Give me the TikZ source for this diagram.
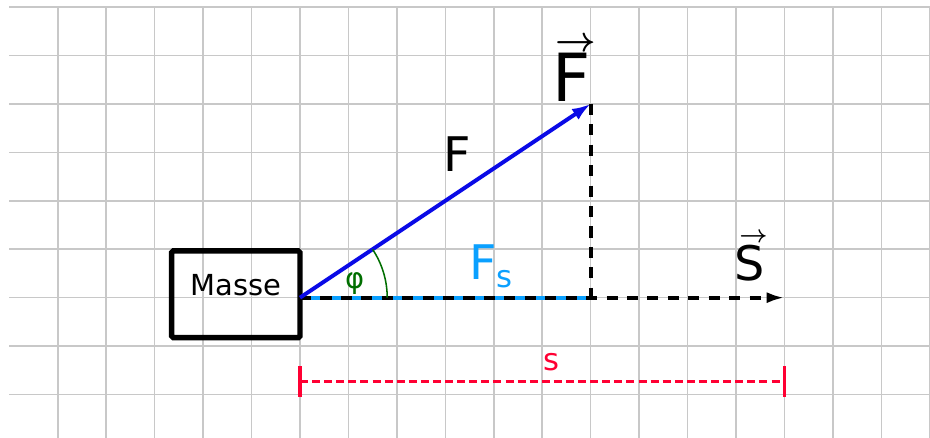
\documentclass[tikz,border=0pt]{standalone}
\usepackage{fontspec}
\setmainfont{DejaVu Sans}
\usetikzlibrary{arrows.meta}
\definecolor{gridgray}{RGB}{200,200,200}
\definecolor{fblue}{RGB}{10,10,230}
\definecolor{fcyan}{RGB}{10,160,255}
\definecolor{agreen}{RGB}{0,110,0}
\definecolor{sred}{RGB}{255,0,51}
% #1 letter, #2 arrow size, #3 gap, #4 right shift of arrow
\newcommand\myvec[4]{\leavevmode\vbox{\offinterlineskip\halign{\hfil##\hfil\cr
  \hbox{\kern#4\fontsize{#2}{#2}\selectfont\boldmath$\rightarrow$}\cr\noalign{\kern#3}
  \hbox{#1}\cr}}}
\tikzset{
  gridline/.style={draw=gridgray, line width=0.9pt},
  massebox/.style={draw=black, line width=3.2pt, rounded corners=1pt, inner sep=0pt,
    minimum width=2.65cm, text height=0.93cm, text depth=0.86cm, align=center,
    font=\fontsize{17}{20}\selectfont},
  forcevec/.style={draw=fblue, line width=2.3pt, -{Latex[length=11pt,width=7.5pt]}},
  blackdash/.style={draw=black, line width=2.3pt, dash pattern=on 6.5pt off 5.5pt},
  cyanline/.style={draw=fcyan, line width=2.3pt},
  anglearc/.style={draw=agreen, line width=0.9pt},
  reddash/.style={draw=sred, line width=2.3pt, dash pattern=on 4.7pt off 2.4pt},
  redtick/.style={draw=sred, line width=1.9pt},
  biglabel/.style={inner sep=0pt, anchor=base, font=\fontsize{28}{32}\selectfont},
}
\begin{document}
\begin{tikzpicture}
\useasboundingbox (-6.192,-2.896) rectangle (13.003,6.144);
% grid
\foreach \y in {-2,...,6} \draw[gridline] (-6,\y) -- (13.3,\y);
\foreach \x in {-5,...,13} \draw[gridline] (\x,-3) -- (\x,6);
% coordinates
\coordinate (O) at (0,0);
\coordinate (Ftip) at (6,4);
\coordinate (Fbase) at (6,0);
\coordinate (Stip) at (10,0);
\coordinate (d1) at (0,-1.73);
\coordinate (d2) at (10,-1.73);
\coordinate (arcstart) at (1.8,0);
% mass
\node[massebox] (masse) at (-1.325,0.07) {Masse};
% Fs cyan line with black dashed over it
\draw[cyanline] (O) -- (Fbase);
\draw[blackdash, -{Latex[length=10.5pt,width=6.5pt]}] (O) -- (Stip);
\draw[blackdash] (Ftip) -- (Fbase);
% F vector
\draw[forcevec] (O) -- (Ftip);
% angle
\draw[anglearc] (arcstart) arc[start angle=0, end angle=33.69, radius=1.8];
\node[text=agreen, inner sep=0pt, font=\fontsize{17}{20}\selectfont] (phi) at (1.135,0.30) {φ};
% labels
\node[biglabel] (Flabel) at (3.25,2.6) {F};
\node[biglabel, anchor=base west, text=fcyan] (Fslabel) at (3.49,0.38) {F\raisebox{-4.7pt}{\fontsize{18}{20}\selectfont s}};
\node[inner sep=0pt, anchor=base, font=\fontsize{39}{45}\selectfont] (Fvec) at (5.6,4.045) {\myvec{F}{21}{0.8pt}{5pt}};
\node[biglabel] (Svec) at (9.29,0.36) {\myvec{S}{15}{1.5pt}{4pt}};
% displacement
\draw[reddash] (d1) -- (d2);
\draw[redtick] ([yshift=0.31cm]d1) -- ([yshift=-0.31cm]d1);
\draw[redtick] ([yshift=0.31cm]d2) -- ([yshift=-0.31cm]d2);
\node[text=sred, inner sep=0pt, font=\fontsize{18}{20}\selectfont] (slabel) at (5.2,-1.33) {s};
\end{tikzpicture}
\end{document}
